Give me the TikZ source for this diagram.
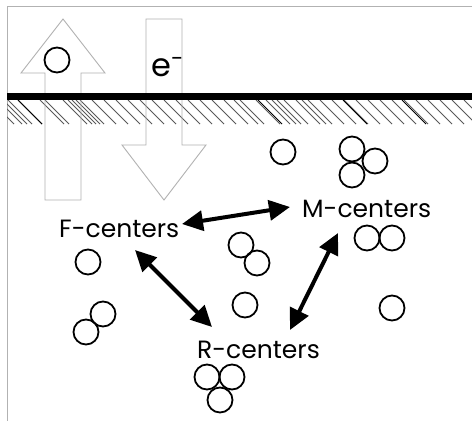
\documentclass[tikz,border=0pt]{standalone}
\usepackage{fontspec}
\setmainfont{Poppins}
\usetikzlibrary{arrows.meta}
\begin{document}
\begin{tikzpicture}[x=1pt,y=-1pt,
  atom/.style={circle,draw=black,line width=1.8pt,minimum size=25pt,inner sep=0pt},
  lbl/.style={font=\fontsize{25}{30}\selectfont,inner sep=0pt},
  link/.style={line width=4pt,{Triangle[length=21pt,width=20pt]}-{Triangle[length=21pt,width=20pt]}},
  flow/.style={draw=gray!60,line width=0.9pt,line join=miter},
  hatch/.style={draw=black!65,line width=1pt},
  frame/.style={draw=gray!60,line width=1pt}
]
\useasboundingbox (0,0) rectangle (472,421);
\fill[white] (0,0) rectangle (472,421);
% frame
\draw[frame] (7,421) -- (7,6) -- (472,6);
% hatching
\begin{scope}
\clip (7,100) rectangle (472,125);
\foreach \x in {-20,-10,-2,3,8,18,40,45,63,68,72,76,80,92,104,116,128,140,152,164,176,188,200,212,224,234,240,256,266,272,277,284,296,302,308,320,332,344,356,368,380,392,404,416,428,440,452,464}
  \draw[hatch] (\x,100) -- ++(24,24);
\foreach \x in {18,258,343,402}
  \draw[draw=black,line width=1pt] (\x,100) -- ++(24,24);
\end{scope}
% big outline arrows
\draw[flow] (45,200) -- (45,73) -- (21,73) -- (63,19) -- (105,73) -- (81,73) -- (81,200) -- cycle;
\draw[flow] (146,19) -- (182,19) -- (182,145) -- (206,145) -- (164,200) -- (122,145) -- (146,145) -- cycle;
% surface bar
\fill[black] (7,93) rectangle (472,100);
% arrow contents
\node[atom] (oxy) at (57,60) {};
\node[anchor=base west,inner sep=0pt,font=\fontsize{32}{36}\selectfont] (el) at (151,76) {e\textsuperscript{-}};
% labels
\node[lbl,anchor=base west] (F) at (59,237) {F-centers};
\node[lbl,anchor=base west] (M) at (302,217) {M-centers};
\node[lbl,anchor=base west] (R) at (197,358) {R-centers};
% atoms
\node[atom] (a1) at (283,152) {};
\node[atom] (m1) at (352,149) {};
\node[atom] (m2) at (375,161) {};
\node[atom] (m3) at (352,175) {};
\node[atom] (b1) at (367,238) {};
\node[atom] (b2) at (392,238) {};
\node[atom] (c1) at (392,308) {};
\node[atom] (d1) at (88,262) {};
\node[atom] (e1) at (103,314) {};
\node[atom] (e2) at (86,332) {};
\node[atom] (g1) at (241,245) {};
\node[atom] (g2) at (257,263) {};
\node[atom] (h1) at (245,305) {};
\node[atom] (r1) at (207,377) {};
\node[atom] (r2) at (232,377) {};
\node[atom] (r3) at (220,400) {};
% connectors
\coordinate (fm1) at (182,224);
\coordinate (fm2) at (290,207);
\coordinate (fr1) at (135,250);
\coordinate (fr2) at (212,327);
\coordinate (rm1) at (290,330);
\coordinate (rm2) at (338,233);
\draw[link] (fm1) -- (fm2);
\draw[link] (fr1) -- (fr2);
\draw[link] (rm1) -- (rm2);
\end{tikzpicture}
\end{document}
